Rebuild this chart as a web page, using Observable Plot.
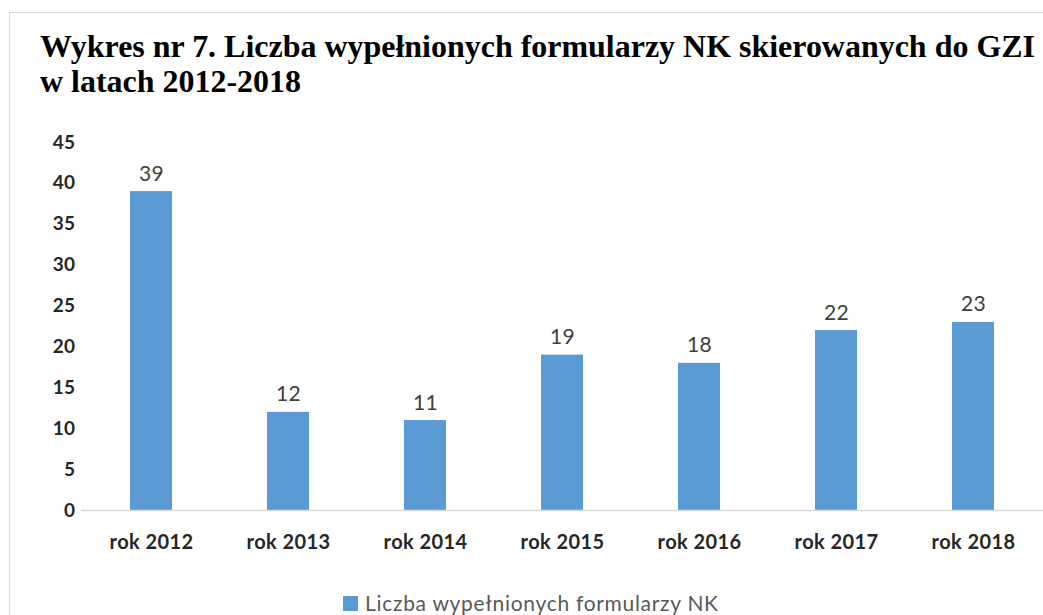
<!DOCTYPE html>
<html>
<head>
<meta charset="utf-8">
<script src="https://cdn.jsdelivr.net/npm/d3@7"></script>
<script src="https://cdn.jsdelivr.net/npm/@observablehq/plot@0.6"></script>
<style>
  html, body { margin: 0; padding: 0; background: #fff; width: 1043px; height: 615px; overflow: hidden; }
  #frame { position: absolute; left: 9px; top: 12px; width: 1100px; height: 700px; border: 1px solid #d9d9d9; box-sizing: border-box; }
  #title { position: absolute; left: 40px; top: 28.5px; font-family: "Liberation Serif", "Times New Roman", serif; font-weight: bold; font-size: 32px; line-height: 35.6px; color: #000; white-space: nowrap; transform-origin: 0 0; }
  #chart { position: absolute; left: 0; top: 120px; }
  #chart svg text { letter-spacing: 0.4px; }
  #legend { position: absolute; left: 343px; top: 591px; font-family: Lato, "Open Sans", sans-serif; font-size: 21px; line-height: 24px; letter-spacing: 0.7px; color: #595959; display: flex; align-items: center; white-space: nowrap; }
  #legend .sw { width: 15px; height: 15px; background: #5b9bd5; margin-right: 7px; }
</style>
</head>
<body>
<div id="frame"></div>
<div id="title"><span id="l1">Wykres nr 7. Liczba wypełnionych formularzy NK skierowanych do GZI</span><br><span>w latach 2012-2018</span></div>
<div id="chart"></div>
<div id="legend"><div class="sw"></div><span>Liczba wypełnionych formularzy NK</span></div>
<script>
const years = ["rok 2012", "rok 2013", "rok 2014", "rok 2015", "rok 2016", "rok 2017", "rok 2018"];
const counts = [39, 12, 11, 19, 18, 22, 23];
const yTicks = [0, 5, 10, 15, 20, 25, 30, 35, 40, 45];

const data = years.map((y, i) => ({year: y, value: counts[i]}));

// Fit the title's first line to the reference width
const k = 995 / document.getElementById("l1").getBoundingClientRect().width;
document.getElementById("title").style.transform = `scaleX(${k})`;

const chart = Plot.plot({
  width: 1043,
  height: 460,
  marginLeft: 81,
  marginRight: 0,
  marginTop: 22,
  marginBottom: 70,
  style: {fontFamily: "Lato, 'Open Sans', sans-serif", background: "transparent"},
  x: {domain: years, paddingInner: 0.69, paddingOuter: 0.345, label: null},
  y: {domain: [0, 45], label: null},
  marks: [
    Plot.barY(data, {x: "year", y: "value", fill: "#5b9bd5"}),
    Plot.ruleY([0], {stroke: "#d9d9d9", strokeWidth: 1.5}),
    Plot.text(data, {x: "year", y: "value", text: d => String(d.value), dy: -11, lineAnchor: "bottom", fontSize: 21, fill: "#404040"}),
    Plot.axisY({ticks: yTicks, tickSize: 0, tickPadding: 6, fontSize: 19, fontWeight: "bold", fill: "#262626", label: null}),
    Plot.axisX({tickSize: 0, tickPadding: 24, fontSize: 20, fontWeight: "bold", fill: "#262626", label: null})
  ]
});
document.getElementById("chart").appendChild(chart);
</script>
</body>
</html>
